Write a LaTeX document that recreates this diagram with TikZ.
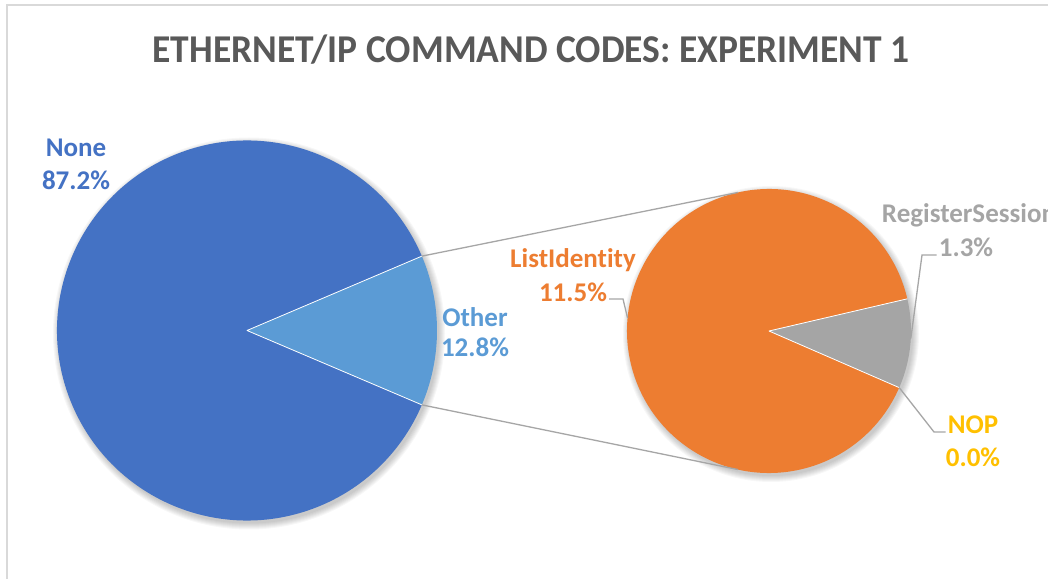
\documentclass[tikz,border=0pt]{standalone}
\usepackage{fontspec}
\setmainfont{Carlito}[Ligatures=NoCommon]
\usetikzlibrary{calc}

\definecolor{cNone}{HTML}{4472C4}
\definecolor{cOther}{HTML}{5B9BD5}
\definecolor{cList}{HTML}{ED7D31}
\definecolor{cReg}{HTML}{A5A5A5}
\definecolor{cNop}{HTML}{FFC000}
\definecolor{titleGray}{HTML}{595959}
\definecolor{lineGray}{HTML}{A6A6A6}
\definecolor{frameGray}{HTML}{D9D9D9}

\begin{document}
\begin{tikzpicture}[x=1pt,y=1pt,
  lbl/.style={font=\fontsize{27}{32}\selectfont\bfseries, inner sep=2pt},
  link/.style={draw=lineGray, line width=1.3pt},
  leader/.style={draw=lineGray, line width=1.3pt},
  sep/.style={draw=white, line width=0.8pt, line join=round},
  pieshadow/.style={fill=black, opacity=0.03}]

% canvas and chart frame
\clip (0,0) rectangle (1048,578);
\fill[white] (0,0) rectangle (1048,578);
\draw[draw=frameGray, line width=1.5pt] (7,-20) rectangle (1080,573);

% title
\node[font=\fontsize{37.5}{40}\selectfont\bfseries, text=titleGray, anchor=base, inner sep=0pt, yscale=1.05]
  (title) at (531,515) {ETHERNET/IP COMMAND CODES: EXPERIMENT 1};

% pie centres
\coordinate (c1) at (247,247.5);
\coordinate (c2) at (769,247);

% soft shadows
\foreach \k in {0,...,6} {
  \fill[pieshadow] ($(c1)+(2,-3)$) circle (190+\k);
  \fill[pieshadow] ($(c2)+(2,-3)$) circle (142+\k);
}

% main pie
\coordinate (o1a) at ($(c1)+(23.04:190)$);
\coordinate (o1b) at ($(c1)+(-23.04:190)$);
\fill[cNone] (c1) -- (o1a) arc[start angle=23.04, end angle=336.96, radius=190] -- cycle;
\fill[cOther] (c1) -- (o1b) arc[start angle=-23.04, end angle=23.04, radius=190] -- cycle;
\draw[sep] (o1a) -- (c1) -- (o1b);

% secondary pie
\coordinate (o2a) at ($(c2)+(13.1:142)$);
\coordinate (o2b) at ($(c2)+(-23.5:142)$);
\fill[cList] (c2) -- (o2a) arc[start angle=13.1, end angle=336.5, radius=142] -- cycle;
\fill[cReg] (c2) -- (o2b) arc[start angle=-23.5, end angle=13.1, radius=142] -- cycle;
\draw[sep] (o2a) -- (c2) -- (o2b);

% connectors between the pies
\coordinate (p2a) at ($(c2)+(102.6:142)$);
\coordinate (p2b) at ($(c2)+(-102.6:142)$);
\draw[link] (o1a) -- (p2a);
\draw[link] (o1b) -- (p2b);

% labels
\node[lbl, text=cNone] (none-name) at (76,430) {None};
\node[lbl, text=cNone] (none-val) at (76,398) {87.2\%};
\node[lbl, text=cOther] (other-name) at (475,261) {Other};
\node[lbl, text=cOther] (other-val) at (475,231) {12.8\%};
\node[lbl, text=cList] (li-name) at (573,318) {ListIdentity};
\node[lbl, text=cList] (li-val) at (573,286) {11.5\%};
\node[lbl, text=cReg] (rs-name) at (969,363) {RegisterSession};
\node[lbl, text=cReg] (rs-val) at (966,331) {1.3\%};
\node[lbl, text=cNop] (nop-name) at (973,153) {NOP};
\node[lbl, text=cNop] (nop-val) at (973,121) {0.0\%};

% leader lines
\coordinate (li-p) at ($(c2)+(174.8:142)$);
\coordinate (li-k) at (623,279);
\draw[leader] (li-k -| li-val.east) -- (li-k) -- (li-p);

\coordinate (rs-p) at ($(c2)+(-3:142)$);
\coordinate (rs-k) at (922,323);
\draw[leader] (rs-k -| rs-val.west) -- (rs-k) -- (rs-p);

\coordinate (nop-k) at (934,146);
\draw[leader] (o2b) -- (nop-k) -- (nop-k -| nop-name.west);
\end{tikzpicture}
\end{document}
